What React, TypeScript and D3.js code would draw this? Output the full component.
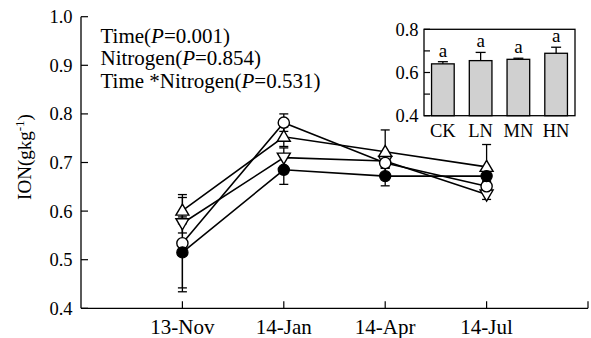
import React from "react";
import * as d3 from "d3";

const dates = ["13-Nov", "14-Jan", "14-Apr", "14-Jul"];
const yTicks = [0.4, 0.5, 0.6, 0.7, 0.8, 0.9, 1.0];

// series: filled circle, open circle, up triangle, down triangle
const filledVals = [0.515, 0.685, 0.672, 0.672];
const filledErr = [0.073, 0.03, 0.02, 0.01];
const openVals = [0.534, 0.782, 0.699, 0.651];
const openErr = [0.1, 0.018, 0.01, 0.01];
const upVals = [0.601, 0.753, 0.722, 0.691];
const upErr = [0.027, 0.02, 0.045, 0.046];
const downVals = [0.575, 0.71, 0.703, 0.634];
const downErr = [0.02, 0.02, 0.015, 0.01];

const statLines = [
  { pre: "Time(", p: "0.001" },
  { pre: "Nitrogen(", p: "0.854" },
  { pre: "Time *Nitrogen(", p: "0.531" },
];

const insetCats = ["CK", "LN", "MN", "HN"];
const insetVals = [0.64, 0.655, 0.661, 0.689];
const insetErr = [0.01, 0.038, 0.005, 0.028];
const insetLetters = ["a", "a", "a", "a"];
const insetTicks = [0.4, 0.5, 0.6, 0.7, 0.8];
const insetTickLabels = [0.4, 0.6, 0.8];

const FONT = "Liberation Serif";

export default function App() {
  const x = d3.scaleLinear().domain([0, 5]).range([81, 588]);
  const y = d3.scaleLinear().domain([0.4, 1.0]).range([308.3, 16.7]);
  const line = d3
    .line<number>()
    .x((_, i) => x(i + 1))
    .y((d) => y(d));

  // drawing order: triangles first, then open circle, then filled circle on top
  const series = [
    { vals: downVals, err: downErr, kind: "down" },
    { vals: upVals, err: upErr, kind: "up" },
    { vals: openVals, err: openErr, kind: "open" },
    { vals: filledVals, err: filledErr, kind: "filled" },
  ];

  const ix = d3.scaleBand().domain(insetCats).range([424, 575]).paddingInner(0.4).paddingOuter(0.2);
  const iy = d3.scaleLinear().domain([0.4, 0.8]).range([115.7, 29.3]);

  const tri = (cx: number, cy: number, up: boolean) => {
    const s = 6.5;
    const h = s * 1.0;
    if (up)
      return `M${cx},${cy - h} L${cx + s},${cy + h * 0.7} L${cx - s},${cy + h * 0.7} Z`;
    return `M${cx},${cy + h} L${cx + s},${cy - h * 0.7} L${cx - s},${cy - h * 0.7} Z`;
  };

  const ts = { fontFamily: FONT };

  return (
    <svg
      width={591}
      height={338}
      style={{ position: "absolute", left: 0, top: 0, background: "#fff", fontFamily: FONT }}
    >
      <rect x={0} y={0} width={591} height={338} fill="#fff" />
      {/* axes */}
      <line x1={x(0)} x2={x(0)} y1={y(1.0)} y2={y(0.4)} stroke="#000" strokeWidth={1.3} />
      <line x1={x(0)} x2={x(5)} y1={y(0.4)} y2={y(0.4)} stroke="#000" strokeWidth={1.3} />
      {yTicks.map((t) => (
        <g key={t}>
          <line x1={x(0)} x2={x(0) + 7} y1={y(t)} y2={y(t)} stroke="#000" strokeWidth={1.2} />
          <text x={72.5} y={y(t)} dy="0.35em" textAnchor="end" fontSize={18.5} style={ts}>
            {t.toFixed(1)}
          </text>
        </g>
      ))}
      {[1, 2, 3, 4, 5].map((i) => (
        <line key={i} x1={x(i)} x2={x(i)} y1={y(0.4)} y2={y(0.4) - 7} stroke="#000" strokeWidth={1.2} />
      ))}
      {dates.map((d, i) => (
        <text key={d} x={x(i + 1)} y={334} textAnchor="middle" fontSize={21} style={ts}>
          {d}
        </text>
      ))}
      <text transform={`translate(31,157) rotate(-90)`} textAnchor="middle" fontSize={19} style={ts}>
        ION(gkg<tspan dy={-7} fontSize={13}>-1</tspan>
        <tspan dy={7}>)</tspan>
      </text>

      {/* stats text */}
      {statLines.map((s, i) => (
        <text key={i} x={100.5} y={42.5 + i * 22.5} fontSize={21} style={ts}>
          {s.pre}
          <tspan fontStyle="italic">P</tspan>={s.p})
        </text>
      ))}

      {/* lines */}
      {series.map((s, k) => (
        <path key={k} d={line(s.vals) || ""} fill="none" stroke="#000" strokeWidth={1.6} />
      ))}
      {/* error bars */}
      {series.map((s, k) =>
        s.vals.map((v, i) => (
          <g key={`${k}-${i}`} stroke="#000" strokeWidth={1.3}>
            <line x1={x(i + 1)} x2={x(i + 1)} y1={y(v - s.err[i])} y2={y(v + s.err[i])} />
            <line x1={x(i + 1) - 4.5} x2={x(i + 1) + 4.5} y1={y(v - s.err[i])} y2={y(v - s.err[i])} />
            <line x1={x(i + 1) - 4.5} x2={x(i + 1) + 4.5} y1={y(v + s.err[i])} y2={y(v + s.err[i])} />
          </g>
        ))
      )}
      {/* markers */}
      {series.map((s, k) =>
        s.vals.map((v, i) => {
          const cx = x(i + 1);
          const cy = y(v);
          if (s.kind === "filled")
            return <circle key={`m${k}-${i}`} cx={cx} cy={cy} r={5.6} fill="#000" stroke="#000" strokeWidth={1.2} />;
          if (s.kind === "open")
            return <circle key={`m${k}-${i}`} cx={cx} cy={cy} r={5.6} fill="#fff" stroke="#000" strokeWidth={1.4} />;
          return (
            <path
              key={`m${k}-${i}`}
              d={tri(cx, cy, s.kind === "up")}
              fill="#fff"
              stroke="#000"
              strokeWidth={1.4}
            />
          );
        })
      )}

      {/* inset */}
      <rect x={424} y={iy(0.8)} width={575 - 424} height={iy(0.4) - iy(0.8)} fill="#fff" stroke="#000" strokeWidth={1.3} />
      {insetTicks.map((t) => (
        <line key={t} x1={424} x2={430} y1={iy(t)} y2={iy(t)} stroke="#000" strokeWidth={1.2} />
      ))}
      {insetTickLabels.map((t) => (
        <text key={t} x={418.5} y={iy(t)} dy="0.35em" textAnchor="end" fontSize={18.5} style={ts}>
          {t.toFixed(1)}
        </text>
      ))}
      {insetCats.map((c, i) => {
        const bx = ix(c) as number;
        const bw = ix.bandwidth();
        const cx = bx + bw / 2;
        const top = iy(insetVals[i]);
        const capY = iy(insetVals[i] + insetErr[i]);
        return (
          <g key={c}>
            <rect x={bx} y={top} width={bw} height={iy(0.4) - top} fill="#d0d0d0" stroke="#000" strokeWidth={1.3} />
            <line x1={cx} x2={cx} y1={top} y2={capY} stroke="#000" strokeWidth={1.3} />
            <line x1={cx - 5} x2={cx + 5} y1={capY} y2={capY} stroke="#000" strokeWidth={1.3} />
            <text x={cx} y={capY - 5} textAnchor="middle" fontSize={19} style={ts}>
              {insetLetters[i]}
            </text>
            <text x={cx} y={136.5} textAnchor="middle" fontSize={18.5} style={ts}>
              {c}
            </text>
          </g>
        );
      })}
    </svg>
  );
}
